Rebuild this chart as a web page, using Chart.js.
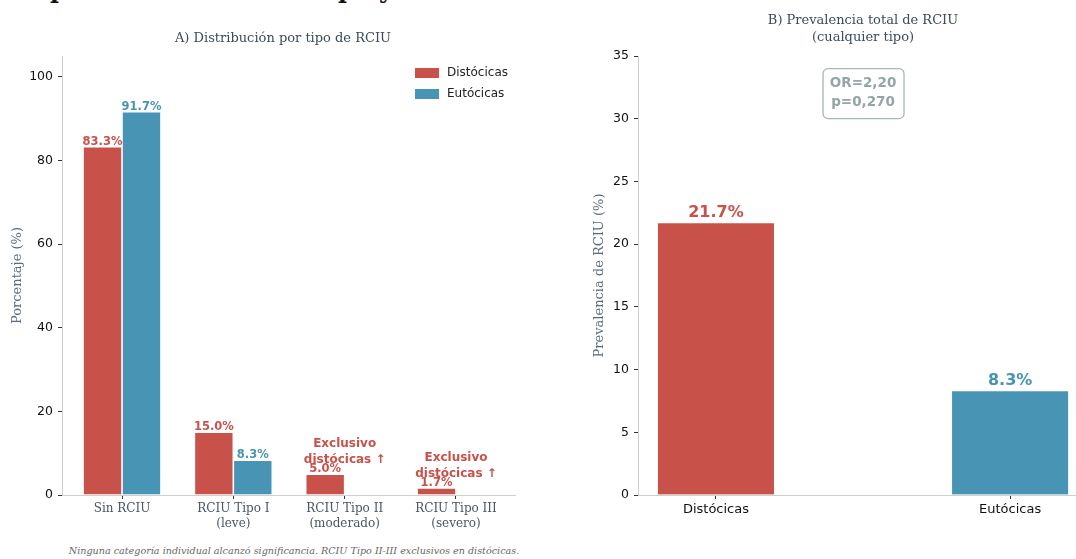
<!DOCTYPE html>
<html>
<head>
<meta charset="utf-8">
<script src="https://cdn.jsdelivr.net/npm/chart.js@4.4.1/dist/chart.umd.min.js"></script>
<style>
  body { margin: 0; background: #fff; width: 1076px; height: 559px; overflow: hidden; position: relative; }
  #titulo { position: absolute; top: -25px; left: 50px; font: bold 24px "DejaVu Serif"; color: #111; white-space: nowrap; }
  #nota { position: absolute; top: 545px; left: 0; width: 588px; text-align: center; font: italic 9.6px "DejaVu Serif"; color: #666; }
  #graficoA { position: absolute; left: 0; top: 0; }
  #graficoB { position: absolute; left: 540px; top: 0; }
</style>
</head>
<body>
<div id="titulo">patrón del RCIU: el tipo y su total</div>
<canvas id="graficoA" width="540" height="540"></canvas>
<canvas id="graficoB" width="536" height="540"></canvas>
<div id="nota">Ninguna categoría individual alcanzó significancia. RCIU Tipo II-III exclusivos en distócicas.</div>
<script>
// datos del panel A
var tiposRCIU = [['Sin RCIU'], ['RCIU Tipo I', '(leve)'], ['RCIU Tipo II', '(moderado)'], ['RCIU Tipo III', '(severo)']];
var distocicas = [83.3, 15.0, 5.0, 1.7];
var eutocicas = [91.7, 8.3, 0, 0];
var ticksA = [0, 20, 40, 60, 80, 100];
var exclusivo = ['Exclusivo', 'distócicas ↑'];

// datos del panel B
var grupos = ['Distócicas', 'Eutócicas'];
var prevalencia = [21.7, 8.3];
var ticksB = [0, 5, 10, 15, 20, 25, 30, 35];
var notaOR = ['OR=2,20', 'p=0,270'];

var rojo = '#c8524a';
var azul = '#4894b5';
var serif = '"DejaVu Serif"';
var sans = '"DejaVu Sans"';
var grisTexto = '#4a5568';

function ejeY(ticks, ancho) { // eje y estilo matplotlib
    return {
        min: 0,
        afterBuildTicks: s => { s.ticks = ticks.map(v => ({ value: v })); },
        afterFit: s => { s.width = ancho; },
        grid: { display: true, drawOnChartArea: false, drawTicks: true, tickLength: 4, color: '#333' },
        border: { display: true, color: '#cfcfcf', width: 1 },
        ticks: { color: '#111', padding: 5, font: { family: sans, size: 12.5 } }
    };
}

function ejeX(etiquetas, min, max, fuente, color) { // eje x lineal con ticks en las categorias
    return {
        type: 'linear',
        min: min,
        max: max,
        offset: false,
        afterBuildTicks: s => { s.ticks = etiquetas.map((g, i) => ({ value: i })); },
        afterFit: s => { s.height = 45; },
        grid: { display: true, offset: false, drawOnChartArea: false, drawTicks: true, tickLength: 4, color: '#333' },
        border: { display: true, color: '#cfcfcf', width: 1 },
        ticks: { color: color, padding: 3, font: fuente, callback: v => etiquetas[v] }
    };
}

var panelA = {
    id: 'panelA',
    afterDatasetsDraw(chart) {
        var c = chart.ctx;
        var xs = chart.scales.x, ys = chart.scales.y;
        c.save();
        // titulo
        c.fillStyle = '#3d4a5c';
        c.font = '13px ' + serif;
        c.textAlign = 'center';
        c.textBaseline = 'middle';
        c.fillText('A) Distribución por tipo de RCIU', 283, 39);
        // etiquetas de valor
        c.font = 'bold 11.5px ' + sans;
        c.textBaseline = 'alphabetic';
        chart.data.datasets.forEach((ds, i) => {
            chart.getDatasetMeta(i).data.forEach((el, j) => {
                var v = ds.data[j].y;
                if (!v) return;
                c.fillStyle = ds.backgroundColor;
                c.fillText(v.toFixed(1) + '%', el.x, el.y - 2);
            });
        });
        // anotaciones exclusivas
        c.fillStyle = rojo;
        c.font = 'bold 12px ' + sans;
        c.textBaseline = 'middle';
        distocicas.forEach((v, j) => {
            if (eutocicas[j] !== 0) return;
            var top = ys.getPixelForValue(v);
            var x = xs.getPixelForValue(j);
            c.fillText(exclusivo[0], x, top - 30);
            c.fillText(exclusivo[1], x, top - 14);
        });
        // leyenda
        c.textAlign = 'left';
        c.font = '12px ' + sans;
        chart.data.datasets.forEach((ds, i) => {
            var y = 73 + i * 21;
            c.fillStyle = ds.backgroundColor;
            c.fillRect(415, y - 5, 24, 10);
            c.fillStyle = '#222';
            c.fillText(ds.label, 447, y);
        });
        c.restore();
    }
};

new Chart(document.getElementById('graficoA'), {
    type: 'bar',
    data: {
        datasets: [
            { label: 'Distócicas', data: distocicas.map((v, i) => ({ x: i, y: v })), backgroundColor: rojo },
            { label: 'Eutócicas', data: eutocicas.map((v, i) => ({ x: i, y: v })), backgroundColor: azul }
        ]
    },
    options: {
        responsive: false,
        animation: false,
        layout: { padding: { left: 0, right: 25, top: 56, bottom: 0 } },
        datasets: { bar: { categoryPercentage: 0.7, barPercentage: 1.0, borderColor: 'rgba(255,255,255,0.5)', borderWidth: ctx => (ctx.raw && ctx.raw.y) ? 0.8 : 0 } },
        plugins: { legend: { display: false }, tooltip: { enabled: false } },
        scales: {
            x: ejeX(tiposRCIU, -0.539, 3.53, { family: serif, size: 12 }, grisTexto),
            y: Object.assign(ejeY(ticksA, 62), {
                max: 105,
                title: { display: true, text: 'Porcentaje (%)', color: '#5a6b7b', font: { family: serif, size: 13 }, padding: { top: 10, bottom: 2 } }
            })
        }
    },
    plugins: [panelA]
});

var panelB = {
    id: 'panelB',
    afterDatasetsDraw(chart) {
        var c = chart.ctx;
        var xs = chart.scales.x, ys = chart.scales.y;
        c.save();
        c.fillStyle = '#3d4a5c';
        c.font = '13px ' + serif;
        c.textAlign = 'center';
        c.textBaseline = 'middle';
        c.fillText('B) Prevalencia total de RCIU', 323, 21);
        c.fillText('(cualquier tipo)', 323, 38);
        // etiquetas de valor
        c.font = 'bold 16px ' + sans;
        c.textBaseline = 'alphabetic';
        chart.getDatasetMeta(0).data.forEach((el, j) => {
            c.fillStyle = chart.data.datasets[0].backgroundColor[j];
            c.fillText(prevalencia[j].toFixed(1) + '%', el.x, el.y - 6);
        });
        // caja OR
        var cx = xs.getPixelForValue(0.5), cy = ys.getPixelForValue(32);
        c.strokeStyle = '#a9b6b4';
        c.lineWidth = 1.3;
        c.beginPath();
        c.roundRect(cx - 40, cy - 25, 81, 50, 5);
        c.stroke();
        c.fillStyle = '#95a5a6';
        c.font = 'bold 13.5px ' + sans;
        c.textBaseline = 'middle';
        c.fillText(notaOR[0], cx, cy - 10);
        c.fillText(notaOR[1], cx, cy + 9);
        c.restore();
    }
};

new Chart(document.getElementById('graficoB'), {
    type: 'bar',
    data: {
        datasets: [{
            label: 'Prevalencia',
            data: prevalencia.map((v, i) => ({ x: i, y: v })),
            backgroundColor: [rojo, azul],
            borderColor: 'rgba(255,255,255,0.5)',
            borderWidth: 0.8,
            barThickness: 117
        }]
    },
    options: {
        responsive: false,
        animation: false,
        layout: { padding: { left: 48, right: 0, top: 56, bottom: 0 } },
        plugins: { legend: { display: false }, tooltip: { enabled: false } },
        scales: {
            x: ejeX(grupos, -0.265, 1.224, { family: sans, size: 13 }, '#111'),
            y: Object.assign(ejeY(ticksB, 50), {
                max: 35,
                title: { display: true, text: 'Prevalencia de RCIU (%)', color: '#5a6b7b', font: { family: serif, size: 13 }, padding: { top: 4, bottom: 2 } }
            })
        }
    },
    plugins: [panelB]
});
</script>
</body>
</html>
